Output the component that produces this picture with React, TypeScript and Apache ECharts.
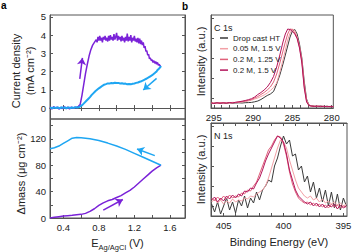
import React, { useEffect, useRef } from "react";
import * as echarts from "echarts";

// ---------- data ----------
const potFwd = [0.25,0.27,0.29,0.31,0.33,0.35,0.37,0.39,0.41,0.43,0.45,0.47,0.49,0.51,0.53,0.55,0.57,
  0.59,0.61,0.63,0.65,0.67,0.69,0.71,0.73,0.75,0.77,
  0.78,0.79,0.80,0.81,0.82,0.83,0.84,0.85,0.86,0.87,
  0.88,0.89,0.90,0.91,0.92,0.93,0.94,0.95,0.96,0.97,
  0.98,0.99,1.00,1.01,1.02,1.03,1.04,1.05,1.06,1.07,
  1.08,1.09,1.10,1.11,1.12,1.13,1.14,1.15,1.16,1.17,
  1.18,1.19,1.20,1.21,1.22,1.23,1.24,1.25,1.26,1.27,
  1.28,1.29,1.30,1.31,1.32,1.33,1.34,1.35,1.36,1.37,
  1.38,1.39,1.40,1.41,1.42,1.43,1.44,1.45,1.46,1.47,
  1.48,1.49,1.50];
const curFwd = [0.05,-0.05,0.08,-0.02,0.06,-0.06,0.04,-0.03,0.07,-0.04,0.05,-0.05,0.06,-0.02,0.05,0.02,0.1,
  0.2,0.7,1.3,1.9,2.4,2.85,3.2,3.45,3.6,3.75,
  3.6,3.9,3.7,3.95,3.7,3.85,3.6,3.9,3.75,3.95,
  3.7,3.85,3.65,3.95,3.7,4.0,3.75,3.9,3.7,4.05,
  3.75,3.9,4.12,3.7,3.95,3.75,3.9,3.65,3.95,3.7,
  3.85,3.6,3.9,3.7,4.08,3.65,3.9,3.7,4.0,3.6,
  3.85,3.7,3.95,3.65,3.8,3.6,3.85,3.55,3.8,3.5,
  3.7,3.45,3.6,3.3,3.4,3.1,3.15,2.9,2.95,2.7,
  2.75,2.6,2.65,2.5,2.6,2.45,2.55,2.4,2.5,2.35,
  2.4,2.3,2.3];
const potRev = [1.5,1.49,1.48,1.47,1.46,1.45,1.44,1.43,1.42,1.41,1.40,
  1.38,1.36,1.34,1.32,1.30,1.28,1.26,1.24,1.22,1.20,1.18,1.16,1.14,1.12,1.10,1.08,1.06,1.04,1.02,1.00,
  0.98,0.96,0.94,0.92,0.90,0.88,0.86,0.84,0.82,0.80,0.78,0.76,0.74,0.72,0.70,0.68,0.66,0.64,0.62,0.60,
  0.58,0.56,0.54,0.52,0.50,0.48,0.46,0.44,0.42,0.40,0.38,0.36,0.34,0.32,0.30,0.28,0.26,0.25];
const curRev = [2.3,2.22,2.18,2.12,2.08,2.0,1.97,1.92,1.88,1.84,
  1.8,1.74,1.68,1.62,1.57,1.52,1.47,1.44,1.4,1.38,
  1.35,1.33,1.3,1.32,1.3,1.34,1.33,1.36,1.35,1.38,
  1.37,1.39,1.36,1.37,1.34,1.35,1.31,1.28,1.22,1.15,
  1.08,1.0,0.92,0.82,0.72,0.6,0.5,0.4,0.3,0.2,
  0.12,0.06,0.03,0.05,0.01,0.03,0.0,0.04,-0.01,0.03,
  0.01,0.04,-0.02,0.03,0.0,0.04,-0.01,0.02,0.01];

const massPotFwd = [0.25,0.3,0.35,0.4,0.45,0.5,0.55,0.6,0.65,0.7,0.75,0.8,0.85,0.9,0.95,1.0,1.05,1.1,1.15,1.2,1.25,1.3,1.35,1.4,1.45,1.5];
const massFwd = [0,1,2,3,3.5,4,5,5.5,7,10,14,19,23,26,28,31,34,38,42,47,53,59,65,71,76,80];
const massPotRev = [1.5,1.45,1.4,1.3,1.2,1.1,1.0,0.9,0.8,0.7,0.6,0.55,0.5,0.45,0.4,0.35,0.3,0.25];
const massRev = [80,83,86,92,98,104,109,113.5,117.5,120,121.5,122,121,117,113,109,106.5,105];

const c1sBE = [295.3,295,294.6,294.2,293.8,293.4,293,292.6,292.2,291.8,291.4,291,290.6,290.2,289.8,289.4,289,288.6,288.2,287.8,287.4,287,286.6,286.2,285.9,285.6,285.3,285,284.7,284.4,284.1,283.8,283.5,283.2,282.9,282.6,282.2,281.8,281.4,281,280.6,280.2,279.8];
const c1sDrop = [5,4.7,5.3,4.9,5.1,4.6,5.2,4.8,5,5.2,5,5.3,5.4,5.6,6.2,7,8.5,10.5,12.5,14,16.5,24,33,44,53,62,71,77,78.5,74,64,50,27,9,3,2.2,1.8,1.5,2,1.4,1.8,1.3,1.6];
const c1s005 = [4.6,5.2,4.8,5,5.5,4.9,5.3,5.1,5.4,5.8,6,6.5,7,7.8,9,10,11.5,13,15,17.5,20.5,25,36,48,58,68,75,79,77.5,71,62,48,24,8,3,2,1.6,2.1,1.5,1.8,1.3,1.7,1.4];
const c1s02a = [5.3,4.8,5,5.4,4.7,5.2,5,5.6,5.5,6,6.4,7,7.6,8.5,10,11.5,13.5,15.5,18,21,26,34,45,57,66,74,79,78.5,75,70,61,47,22,7,2.5,1.8,2,1.4,1.9,1.3,1.7,1.2,1.5];
const c1s02b = [5,4.5,5.2,4.6,5.3,4.8,5.5,5,5.8,6.2,6.8,7.5,8.3,9.3,11,13.5,15.5,18,21,25.5,31.5,41,53,66,74,79,78.5,76.5,74,69.5,60,45,20,6,2.5,2,1.5,2,1.3,1.8,1.2,1.6,1.2];

const n1sBE = [406,405.75,405.5,405.25,405,404.75,404.5,404.25,404,403.75,403.5,403.25,403,402.75,402.5,402.25,402,401.75,401.5,401.25,401,400.75,400.5,400.25,400,399.75,399.5,399.25,399,398.75,398.5,398.25,398,397.75,397.5,397.25,397,396.75,396.5,396.25,396,395.75,395.5,395.25,395,394.75];
const n1sDrop = [12,4,14,2,10,18,6,14,3,16,10,20,8,18,13,24,16,26,30,36,34,50,58,70,80,72,76,60,62,46,50,34,40,24,34,18,28,14,26,10,24,8,22,6,18,10];
const n1s005 = [14,17,13,16,12,15,13,17,14,16,15,18,17,20,19,22,24,26,30,38,48,58,68,76,74,68,56,46,36,28,24,20,18,20,16,18,14,17,13,15,12,14,11,13,10,12];
const n1s02a = [18,15,19,16,20,17,21,18,20,19,23,22,26,25,30,34,42,50,58,66,70,76,80,79,72,60,44,32,24,18,15,13,14,11,13,10,12,9,11,8,12,9,11,8,10,9];
const n1s02b = [16,19,14,18,15,20,17,21,18,22,20,25,24,28,27,33,38,46,55,62,68,74,80,78,74,62,46,36,26,20,17,14,12,14,10,13,9,12,8,11,9,12,7,11,8,10];

const sampleNames = ["Drop cast HT", "0.05 M, 1.5 V", "0.2 M, 1.25 V", "0.2 M, 1.5 V"];
const sampleColors = ["#3a3a3a", "#f2a0a6", "#e0607a", "#b3145a"];

const potTicks = [0.4, 0.6, 0.8, 1.0, 1.2, 1.4, 1.6];
const potLabels = [0.4, 0.8, 1.2, 1.6];
const curLabels = [0, 1, 2, 3, 4, 5];
const massLabels = [0, 40, 80, 120];
const massTicks = [0, 20, 40, 60, 80, 100, 120, 140];
const c1sLabels = [295, 290, 285, 280];
const c1sTicks = [280,281,282,283,284,285,286,287,288,289,290,291,292,293,294,295];
const n1sLabels = [405, 400, 395];
const n1sTicks = [395,396,397,398,399,400,401,402,403,404,405];
const intTicks = [10, 30, 50, 70, 90];

const arrowCurFwd = [[0.585, 1.6], [0.615, 2.75]];
const arrowCurRev = [[1.45, 1.63], [1.30, 0.99]];
const arrowMassRev = [[1.43, 94.5], [1.23, 104.5]];
const arrowMassFwd = [[0.85, 12], [1.07, 28]];

// ---------- styles ----------
const FONT = "Arial, 'Liberation Sans', Helvetica, sans-serif";
const AX = "#555";
const TXT = "#222";
const PURPLE = "#7a22d8";
const BLUE = "#1ea6f2";

const zip = (xs: number[], ys: number[]) => xs.map((x, i) => [x, ys[i]]);

function tick(custom: number[], len = 3) {
  return { show: true, inside: true, length: len, customValues: custom, lineStyle: { color: AX, width: 1 } };
}
function label(custom: number[] | null, fmt?: (v: number) => string) {
  if (!custom) return { show: false };
  return {
    show: true, customValues: custom, fontSize: 9.5, fontFamily: FONT, color: TXT, margin: 4,
    formatter: fmt ? (v: number) => fmt(v) : undefined,
  };
}
const line = { show: true, lineStyle: { color: AX, width: 1 } };

function arrowLine(a: number[][], color: string) {
  return {
    silent: true, animation: false,
    symbol: ["none", "arrow"], symbolSize: 7,
    lineStyle: { color, width: 1.5, type: "solid" },
    label: { show: false }, emphasis: { disabled: true },
    data: [[{ coord: a[0] }, { coord: a[1] }]],
  };
}

export default function App() {
  const ref = useRef<HTMLDivElement>(null);
  useEffect(() => {
    if (!ref.current) return;
    const chart = echarts.init(ref.current, undefined, { renderer: "svg" });
    const gridBox = { show: true, borderColor: AX, borderWidth: 1, backgroundColor: "transparent" };
    const option: any = {
      animation: false,
      backgroundColor: "#fff",
      textStyle: { fontFamily: FONT },
      grid: [
        { left: 50, top: 15, width: 135, height: 104, ...gridBox },
        { left: 50, top: 119, width: 135, height: 100, ...gridBox },
        { left: 211, top: 15, width: 136, height: 93, ...gridBox },
        { left: 211, top: 123, width: 136, height: 93, ...gridBox },
      ],
      xAxis: [
        { type: "value", gridIndex: 0, min: 0.25, max: 1.77, position: "bottom", axisLine: line, axisTick: tick(potTicks), axisLabel: label(null), splitLine: { show: false } },
        { type: "value", gridIndex: 0, min: 0.25, max: 1.77, position: "top", axisLine: line, axisTick: tick(potTicks), axisLabel: label(null), splitLine: { show: false } },
        {
          type: "value", gridIndex: 1, min: 0.25, max: 1.77, position: "bottom", axisLine: line, axisTick: tick(potTicks),
          axisLabel: label(potLabels, (v) => v.toFixed(1)), splitLine: { show: false },
          name: "{m|E}{s|Ag/AgCl}{m| (V)}", nameLocation: "middle", nameGap: 17,
          nameTextStyle: {
            fontSize: 11, fontFamily: FONT, color: TXT,
            rich: {
              m: { fontSize: 11, fontFamily: FONT, color: TXT, lineHeight: 16 },
              s: { fontSize: 7.5, fontFamily: FONT, color: TXT, lineHeight: 10, verticalAlign: "bottom" },
            },
          },
        },
        { type: "value", gridIndex: 2, min: 279.8, max: 295.35, inverse: true, position: "bottom", axisLine: line, axisTick: tick(c1sTicks), axisLabel: label(c1sLabels, (v) => String(v)), splitLine: { show: false } },
        {
          type: "value", gridIndex: 3, min: 394.7, max: 406.05, inverse: true, position: "bottom", axisLine: line, axisTick: tick(n1sTicks),
          axisLabel: label(n1sLabels, (v) => String(v)), splitLine: { show: false },
          name: "Binding Energy (eV)", nameLocation: "middle", nameGap: 20,
          nameTextStyle: { fontSize: 11, fontFamily: FONT, color: TXT },
        },
        { type: "value", gridIndex: 3, min: 394.7, max: 406.05, inverse: true, position: "top", axisLine: line, axisTick: tick(n1sTicks), axisLabel: label(null), splitLine: { show: false } },
      ],
      yAxis: [
        {
          type: "value", gridIndex: 0, min: -0.6, max: 5.1, position: "left", axisLine: line, axisTick: tick(curLabels),
          axisLabel: label(curLabels, (v) => String(v)), splitLine: { show: false },
          name: "Current density\n(mA cm⁻²)", nameLocation: "middle", nameGap: 8,
          nameTextStyle: { fontSize: 11, fontFamily: FONT, color: TXT, lineHeight: 14, padding: [0, 8, 0, 0] },
        },
        { type: "value", gridIndex: 0, min: -0.6, max: 5.1, position: "right", axisLine: line, axisTick: tick(curLabels), axisLabel: label(null), splitLine: { show: false } },
        {
          type: "value", gridIndex: 1, min: 0, max: 150, position: "left", axisLine: line, axisTick: tick(massTicks),
          axisLabel: label(massLabels, (v) => String(v)), splitLine: { show: false },
          name: "Δmass (μg cm⁻²)", nameLocation: "middle", nameGap: 20,
          nameTextStyle: { fontSize: 11, fontFamily: FONT, color: TXT, padding: [0, 10, 0, 0] },
        },
        { type: "value", gridIndex: 1, min: 0, max: 150, position: "right", axisLine: line, axisTick: tick(massTicks), axisLabel: label(null), splitLine: { show: false } },
        {
          type: "value", gridIndex: 2, min: 0, max: 93, position: "left", axisLine: line, axisTick: tick(intTicks),
          axisLabel: label(null), splitLine: { show: false },
          name: "Intensity (a.u.)", nameLocation: "middle", nameGap: 5,
          nameTextStyle: { fontSize: 11, fontFamily: FONT, color: TXT },
        },
        {
          type: "value", gridIndex: 3, min: 0, max: 93, position: "left", axisLine: line, axisTick: tick(intTicks),
          axisLabel: label(null), splitLine: { show: false },
          name: "Intensity (a.u.)", nameLocation: "middle", nameGap: 5,
          nameTextStyle: { fontSize: 11, fontFamily: FONT, color: TXT },
        },
      ],
      legend: {
        data: sampleNames, orient: "vertical", left: 220, top: 34,
        itemWidth: 8, itemHeight: 1.5, itemGap: 2.7, icon: "rect",
        padding: 0,
        textStyle: { fontSize: 8, fontFamily: FONT, color: TXT },
        selectedMode: false,
      },
      graphic: [
        { type: "text", left: 1, top: 0, style: { text: "a", font: `bold 10px ${FONT}`, fill: "#000" } },
        { type: "text", left: 182, top: 1, style: { text: "b", font: `bold 10px ${FONT}`, fill: "#000" } },
        { type: "text", left: 214, top: 23, style: { text: "C 1s", font: `9px ${FONT}`, fill: TXT } },
        { type: "text", left: 214, top: 131, style: { text: "N 1s", font: `9px ${FONT}`, fill: TXT } },
      ],
      series: [
        {
          type: "line", name: "forward", xAxisIndex: 0, yAxisIndex: 0, data: zip(potFwd, curFwd),
          symbol: "none", lineStyle: { color: PURPLE, width: 1.5 }, itemStyle: { color: PURPLE },
          markLine: arrowLine(arrowCurFwd, PURPLE),
        },
        {
          type: "line", name: "reverse", xAxisIndex: 0, yAxisIndex: 0, data: zip(potRev, curRev),
          symbol: "none", lineStyle: { color: BLUE, width: 2 }, itemStyle: { color: BLUE },
          markLine: arrowLine(arrowCurRev, BLUE),
        },
        {
          type: "line", name: "mass forward", xAxisIndex: 2, yAxisIndex: 2, data: zip(massPotFwd, massFwd),
          symbol: "none", lineStyle: { color: PURPLE, width: 1.5 }, itemStyle: { color: PURPLE },
          markLine: arrowLine(arrowMassFwd, PURPLE),
        },
        {
          type: "line", name: "mass reverse", xAxisIndex: 2, yAxisIndex: 2, data: zip(massPotRev, massRev),
          symbol: "none", lineStyle: { color: BLUE, width: 1.5 }, itemStyle: { color: BLUE },
          markLine: arrowLine(arrowMassRev, BLUE),
        },
        ...[c1sDrop, c1s005, c1s02a, c1s02b].map((ys, i) => ({
          type: "line", name: sampleNames[i], xAxisIndex: 3, yAxisIndex: 4, data: zip(c1sBE, ys),
          symbol: "none", lineStyle: { color: sampleColors[i], width: 1 }, itemStyle: { color: sampleColors[i] },
        })),
        ...[n1sDrop, n1s005, n1s02a, n1s02b].map((ys, i) => ({
          type: "line", name: sampleNames[i], xAxisIndex: 4, yAxisIndex: 5, data: zip(n1sBE, ys),
          symbol: "none", lineStyle: { color: sampleColors[i], width: 1 }, itemStyle: { color: sampleColors[i] },
        })),
      ],
    };
    chart.setOption(option);
    return () => chart.dispose();
  }, []);
  return <div ref={ref} style={{ position: "fixed", left: 0, top: 0, width: 356, height: 252 }} />;
}
